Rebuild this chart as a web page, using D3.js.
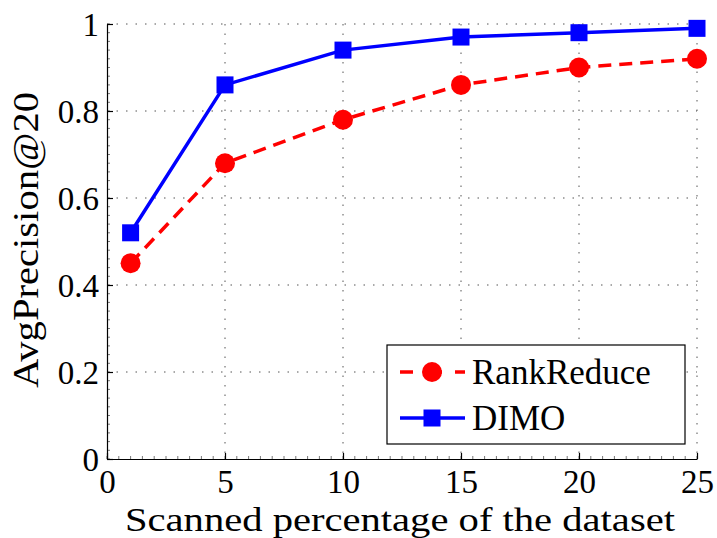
<!DOCTYPE html>
<html>
<head>
<meta charset="utf-8">
<script src="https://cdn.jsdelivr.net/npm/d3@7"></script>
<style>
  body { margin: 0; background: #fff; }
  text { font-family: "Liberation Serif", "DejaVu Serif", serif; fill: #000; }
</style>
</head>
<body>
<svg id="chart"></svg>
<script>
var viewWidth = 717;
var viewHeight = 538;

// data
var percents = [1, 5, 10, 15, 20, 25];
var rankReduce = [0.45, 0.68, 0.78, 0.86, 0.90, 0.92];
var dimo = [0.52, 0.86, 0.94, 0.97, 0.98, 0.99];
var xTicks = [0, 5, 10, 15, 20, 25];
var yTicks = [0, 0.2, 0.4, 0.6, 0.8, 1];
var seriesNames = ["RankReduce", "DIMO"];

var margin = {top: 24, right: 20, bottom: 79, left: 107};
var width = viewWidth - margin.left - margin.right;
var height = viewHeight - margin.top - margin.bottom;

var svg = d3.select("#chart")
    .attr("width", viewWidth)
    .attr("height", viewHeight);

var g = svg.append("g")
    .attr("transform", "translate(" + margin.left + "," + margin.top + ")");

var x = d3.scaleLinear().domain([0, 25]).range([0, width]);
var y = d3.scaleLinear().domain([0, 1]).range([height, 0]);

// dotted grid
g.selectAll(".vgrid")
    .data(xTicks.slice(1))
  .enter().append("line")
    .attr("x1", function(d) { return x(d); })
    .attr("x2", function(d) { return x(d); })
    .attr("y1", 0)
    .attr("y2", height)
    .style("stroke", "#555")
    .style("stroke-width", 1)
    .style("stroke-dasharray", "1.5,8");

g.selectAll(".hgrid")
    .data(yTicks.slice(1))
  .enter().append("line")
    .attr("x1", 0)
    .attr("x2", width)
    .attr("y1", function(d) { return y(d); })
    .attr("y2", function(d) { return y(d); })
    .style("stroke", "#555")
    .style("stroke-width", 1)
    .style("stroke-dasharray", "1.5,8");

// minor ticks
g.selectAll(".xminor")
    .data(d3.range(0, 25.01, 0.5))
  .enter().append("line")
    .attr("x1", function(d) { return x(d); })
    .attr("x2", function(d) { return x(d); })
    .attr("y1", height)
    .attr("y2", height - 3)
    .style("stroke", "#777");

g.selectAll(".yminor")
    .data(d3.range(0, 1.001, 0.02))
  .enter().append("line")
    .attr("x1", 0)
    .attr("x2", 3)
    .attr("y1", function(d) { return y(d); })
    .attr("y2", function(d) { return y(d); })
    .style("stroke", "#777");

// axes
var xAxis = d3.axisBottom(x).tickValues(xTicks).tickSizeInner(-6).tickSizeOuter(0).tickPadding(12);
var yAxis = d3.axisLeft(y).tickValues(yTicks).tickSizeInner(-6).tickSizeOuter(0).tickPadding(8)
    .tickFormat(function(d) { return d === 0 || d === 1 ? d3.format("d")(d) : d3.format(".1f")(d); });

var gx = g.append("g")
    .attr("transform", "translate(0," + height + ")")
    .call(xAxis);
var gy = g.append("g").call(yAxis);

[gx, gy].forEach(function(a) {
  a.select(".domain").style("stroke", "#000").style("stroke-width", 1.2);
  a.selectAll(".tick line").style("stroke", "#000").style("stroke-width", 1.2);
  a.selectAll(".tick text")
    .style("font-family", "'Liberation Serif', serif")
    .style("font-size", "33px")
    .attr("fill", "#000");
});
gx.selectAll(".tick text").attr("dy", "0.68em");
gy.selectAll(".tick text").attr("dy", "0.34em");

// lines
var line = d3.line()
    .x(function(d, i) { return x(percents[i]); })
    .y(function(d) { return y(d); });

g.append("path")
    .datum(rankReduce)
    .attr("d", line)
    .style("fill", "none")
    .style("stroke", "#ff0000")
    .style("stroke-width", 3.5)
    .style("stroke-dasharray", "13,8");

g.append("path")
    .datum(dimo)
    .attr("d", line)
    .style("fill", "none")
    .style("stroke", "#0000ff")
    .style("stroke-width", 3.5);

g.selectAll(".dot")
    .data(rankReduce)
  .enter().append("circle")
    .attr("cx", function(d, i) { return x(percents[i]); })
    .attr("cy", function(d) { return y(d); })
    .attr("r", 10)
    .style("fill", "#ff0000");

g.selectAll(".sq")
    .data(dimo)
  .enter().append("rect")
    .attr("x", function(d, i) { return x(percents[i]) - 8.5; })
    .attr("y", function(d) { return y(d) - 8.5; })
    .attr("width", 17)
    .attr("height", 17)
    .style("fill", "#0000ff");

// axis labels
svg.append("text")
    .attr("x", 400)
    .attr("y", 531)
    .attr("text-anchor", "middle")
    .attr("textLength", 550)
    .attr("lengthAdjust", "spacingAndGlyphs")
    .style("font-size", "33px")
    .text("Scanned percentage of the dataset");

svg.append("text")
    .attr("transform", "translate(38,240) rotate(-90)")
    .attr("text-anchor", "middle")
    .attr("textLength", 296)
    .attr("lengthAdjust", "spacingAndGlyphs")
    .style("font-size", "36px")
    .text("AvgPrecision@20");

// legend
var legend = svg.append("g").attr("transform", "translate(387,345)");
legend.append("rect")
    .attr("width", 298)
    .attr("height", 99)
    .style("fill", "#fff")
    .style("stroke", "#000")
    .style("stroke-width", 1.2);

var lg = legend.selectAll(".item")
    .data(seriesNames)
  .enter().append("g")
    .attr("transform", function(d, i) { return "translate(0," + (27 + i * 46) + ")"; });

lg.append("line")
    .attr("x1", 13)
    .attr("x2", 78)
    .style("stroke", function(d, i) { return i === 0 ? "#ff0000" : "#0000ff"; })
    .style("stroke-width", 3.5)
    .style("stroke-dasharray", function(d, i) { return i === 0 ? "13,16,13" : null; });

lg.filter(function(d, i) { return i === 0; }).append("circle")
    .attr("cx", 45)
    .attr("r", 10)
    .style("fill", "#ff0000");

lg.filter(function(d, i) { return i === 1; }).append("rect")
    .attr("x", 36.5)
    .attr("y", -8.5)
    .attr("width", 17)
    .attr("height", 17)
    .style("fill", "#0000ff");

lg.append("text")
    .attr("x", 85)
    .attr("dy", "0.35em")
    .style("font-size", "35px")
    .text(function(d) { return d; });
</script>
</body>
</html>
